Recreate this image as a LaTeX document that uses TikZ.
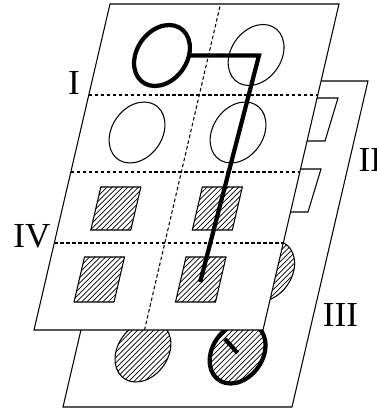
\documentclass[tikz,border=0pt]{standalone}
\usepackage{fontspec}
\setmainfont{Liberation Serif}
\usetikzlibrary{patterns}

\begin{document}
\begin{tikzpicture}[line width=0.6pt,
  sheet/.style={draw, fill=white},
  fold/.style={dash pattern=on 2pt off 1.4pt},
  hatched/.style={draw, pattern=north east lines},
  route/.style={line width=2.4pt},
  lab/.style={inner sep=0pt, font=\fontsize{20}{24}\selectfont}]

  \useasboundingbox (0,0) rectangle (7.54,8.2);

  % ── Back sheet (II / III) ─────────────────────────────────────────────
  \begin{scope}[shift={(1.26,0.06)}, xslant=0.2331]
    \draw[sheet] (0,0) rectangle (4.58,6.52);
    \draw[hatched] (1.34,1.11) ellipse (0.54 and 0.61);
    \draw[hatched] (3.44,2.72) ellipse (0.54 and 0.61);
    \draw[hatched] (3.24,1.08) ellipse (0.54 and 0.61);
    \draw[route] (3.24,1.08) ellipse (0.54 and 0.61);
    \draw[route] (3.24,1.08) -- (2.92,1.36);
  \end{scope}

  % Tabs between the sheets
  \draw (5.96,6.24) -- (6.76,6.24) -- (6.50,5.38) -- (5.70,5.38) -- cycle;
  \draw (5.62,4.82) -- (6.42,4.82) -- (6.16,3.96) -- (5.36,3.96) -- cycle;

  % ── Front sheet (I / IV) ──────────────────────────────────────────────
  \begin{scope}[shift={(0.68,1.60)}, xslant=0.2331]
    \draw[sheet] (0,0) rectangle (4.58,6.52);
    \draw[fold] (0,4.70) -- (4.58,4.70);
    \draw[fold] (0,3.16) -- (4.58,3.16);
    \draw[fold] (0,1.74) -- (4.58,1.74);
    \draw[fold] (2.21,0) -- (2.21,6.52);

    % circles
    \draw (3.16,5.50) ellipse (0.54 and 0.61);
    \draw (1.14,3.95) ellipse (0.54 and 0.61);
    \draw (3.16,3.95) ellipse (0.54 and 0.61);

    % squares
    \draw[hatched] (0.67,2.00) rectangle (1.47,2.86);
    \draw[hatched] (2.70,2.00) rectangle (3.50,2.86);
    \draw[hatched] (0.67,0.56) rectangle (1.47,1.46);
    \draw[hatched] (2.70,0.56) rectangle (3.50,1.46);

    % bold route
    \draw[route] (1.28,5.49) ellipse (0.54 and 0.61);
    \draw[route, miter limit=20] (1.82,5.49) -- (3.22,5.49) -- (3.10,0.96);
  \end{scope}

  % ── Labels ────────────────────────────────────────────────────────────
  \node[lab] (labI) at (1.48,6.54) {I};
  \node[lab] (labIV) at (0.64,3.48) {IV};
  \node[lab, anchor=west] (labII) at (7.16,5.00) {II};
  \node[lab] (labIII) at (6.81,1.90) {III};

\end{tikzpicture}
\end{document}
